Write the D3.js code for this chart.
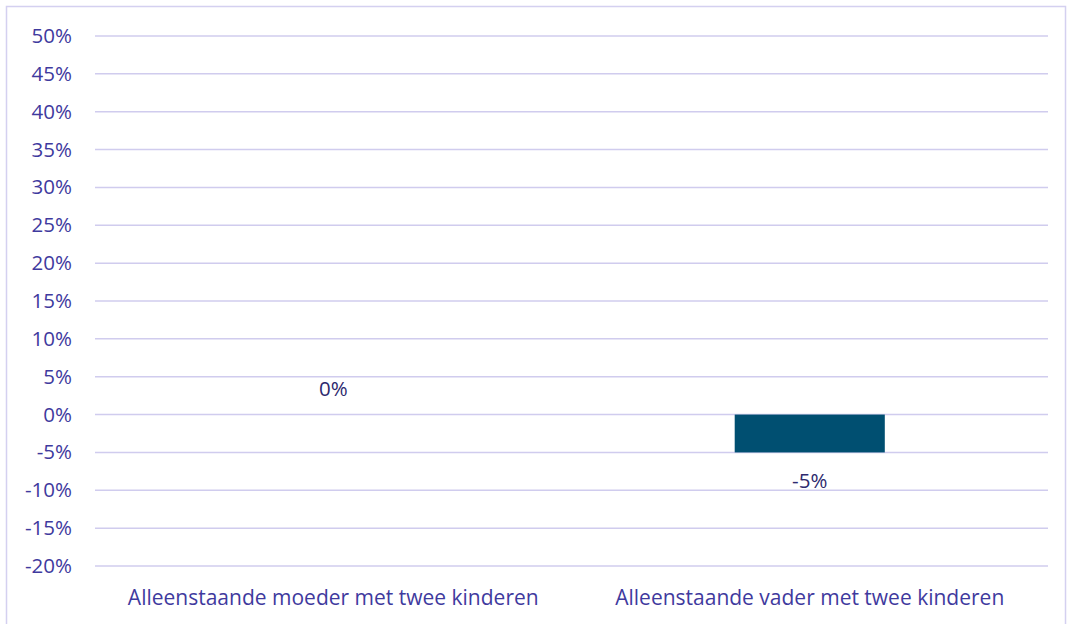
<!DOCTYPE html>
<html>
<head>
<meta charset="utf-8">
<script src="https://cdn.jsdelivr.net/npm/d3@7"></script>
<style>
  body { margin: 0; background: #fff; }
  text { font-family: "Open Sans", sans-serif; }
</style>
</head>
<body>
<div id="chart"></div>
<script>
// data
let categories = ["Alleenstaande moeder met twee kinderen", "Alleenstaande vader met twee kinderen"]
let values = [0, -0.05]
let yTicks = [-0.2, -0.15, -0.1, -0.05, 0, 0.05, 0.1, 0.15, 0.2, 0.25, 0.3, 0.35, 0.4, 0.45, 0.5]

let width = 1069, height = 624
let margin = { top: 36, right: 21, bottom: 58, left: 95 }

let svg = d3.select("#chart")
    .append("svg")
    .attr("width", width)
    .attr("height", height)

// outer frame
svg.append("rect")
    .attr("x", 6.5)
    .attr("y", 6.5)
    .attr("width", 1059)
    .attr("height", 640)
    .attr("fill", "none")
    .attr("stroke", "#d4d0f0")
    .attr("stroke-width", 1.5)

let x = d3.scaleBand()
    .domain(categories)
    .range([margin.left, width - margin.right])

let y = d3.scaleLinear()
    .domain([-0.2, 0.5])
    .range([height - margin.bottom, margin.top])

// gridlines
svg.selectAll(".grid")
    .data(yTicks)
    .enter()
    .append("line")
    .attr("class", "grid")
    .attr("x1", margin.left)
    .attr("x2", width - margin.right)
    .attr("y1", d => y(d))
    .attr("y2", d => y(d))
    .attr("stroke", "#d0ccee")
    .attr("stroke-width", 1.5)

// y axis labels
let fmt = d => Math.round(d * 100) + "%"
let yAxis = svg.append("g")
    .attr("transform", "translate(" + margin.left + ",0)")
    .call(d3.axisLeft(y).tickValues(yTicks).tickFormat(fmt).tickSize(0).tickPadding(23))
yAxis.select(".domain").remove()
yAxis.selectAll("text")
    .attr("fill", "#3f3a9e")
    .style("font-size", "20.5px")
    .style("font-family", "'Open Sans', sans-serif")

// bars
let barW = x.bandwidth() * 0.315
svg.selectAll(".bar")
    .data(values)
    .enter()
    .append("rect")
    .attr("class", "bar")
    .attr("x", (d, i) => x(categories[i]) + x.bandwidth() / 2 - barW / 2)
    .attr("y", d => y(Math.max(0, d)))
    .attr("width", barW)
    .attr("height", d => Math.abs(y(d) - y(0)))
    .attr("fill", "#004f71")

// data labels
svg.selectAll(".dlabel")
    .data(values)
    .enter()
    .append("text")
    .attr("class", "dlabel")
    .attr("x", (d, i) => x(categories[i]) + x.bandwidth() / 2)
    .attr("y", d => d < 0 ? y(d) + 36 : y(d) - 19)
    .attr("text-anchor", "middle")
    .attr("fill", "#2e2a6e")
    .style("font-size", "20.5px")
    .text(fmt)

// category labels
svg.selectAll(".cat")
    .data(categories)
    .enter()
    .append("text")
    .attr("class", "cat")
    .attr("x", d => x(d) + x.bandwidth() / 2)
    .attr("y", height - margin.bottom + 39)
    .attr("text-anchor", "middle")
    .attr("fill", "#3f3a9e")
    .style("font-size", "21px")
    .text(d => d)
</script>
</body>
</html>
